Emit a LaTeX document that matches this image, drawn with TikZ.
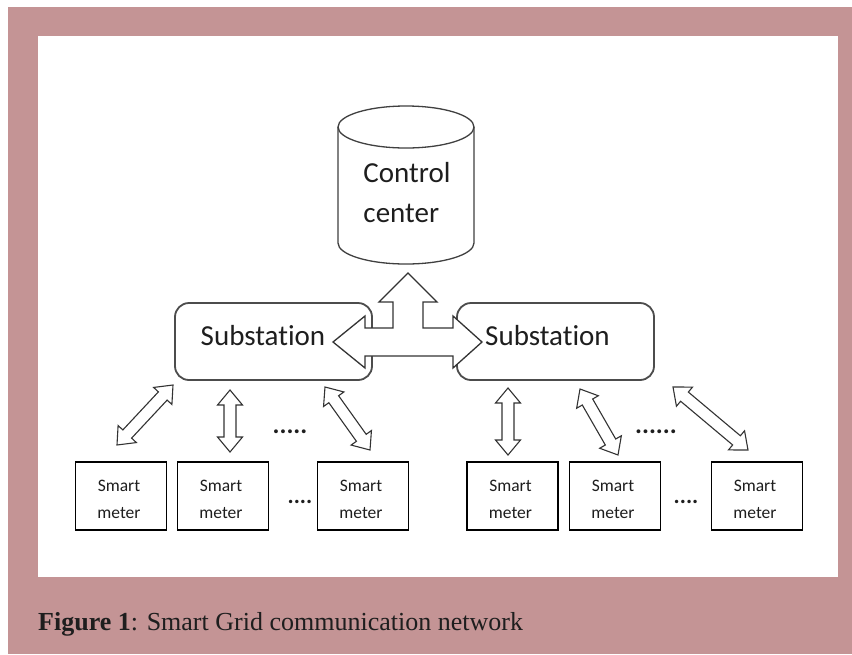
\documentclass[tikz,border=0pt]{standalone}
\usepackage{fontspec}
\setmainfont{Liberation Serif}
\newfontfamily\calib[Ligatures=NoCommon]{Carlito}
\usetikzlibrary{calc}
\definecolor{framepink}{RGB}{196,148,149}
\definecolor{ink}{RGB}{30,30,30}
\tikzset{
  subbox/.style={draw=black!70, line width=1.8pt, rounded corners=14pt, minimum width=197pt, minimum height=77pt, inner sep=0pt},
  meterbox/.style={draw=black, line width=1.3pt, minimum width=91pt, minimum height=68pt, inner sep=0pt},
  metertext/.style={align=center, inner sep=0pt, font=\calib\fontsize{17.5}{27}\selectfont, text=ink},
  cyl/.style={draw=black!75, line width=1.3pt},
  bigarrow/.style={draw=black!80, line width=1.3pt, fill=white, line join=miter},
  bigtext/.style={font=\calib\fontsize{29}{40}\selectfont, text=ink, inner sep=0pt},
  dots/.style={font=\calib\bfseries\fontsize{26}{30}\selectfont, text=ink, inner sep=0pt},
  smalldots/.style={font=\calib\bfseries\fontsize{23}{30}\selectfont, text=ink, inner sep=0pt},
  dbl/.style={draw=black!80, line width=1.1pt, fill=white, line join=miter,
    to path={
      -- ($(\tikztostart)!15pt!(\tikztotarget)!12.5pt!90:(\tikztotarget)$)
      -- ($(\tikztostart)!15pt!(\tikztotarget)!6pt!90:(\tikztotarget)$)
      -- ($(\tikztotarget)!15pt!(\tikztostart)!6pt!-90:(\tikztostart)$)
      -- ($(\tikztotarget)!15pt!(\tikztostart)!12.5pt!-90:(\tikztostart)$)
      -- (\tikztotarget)
      -- ($(\tikztotarget)!15pt!(\tikztostart)!12.5pt!90:(\tikztostart)$)
      -- ($(\tikztotarget)!15pt!(\tikztostart)!6pt!90:(\tikztostart)$)
      -- ($(\tikztostart)!15pt!(\tikztotarget)!6pt!-90:(\tikztotarget)$)
      -- ($(\tikztostart)!15pt!(\tikztotarget)!12.5pt!-90:(\tikztotarget)$)
      -- cycle}}
}
\begin{document}
\begin{tikzpicture}[x=1pt,y=-1pt]
\useasboundingbox (0,0) rectangle (852,654);
% frame
\fill[white] (0,0) rectangle (852,654);
\fill[framepink] (8,7) rectangle (852,654);
\fill[white] (38,36) rectangle (838,577);

% control center cylinder
\draw[cyl] (338,127) -- (338,243) arc[start angle=180, end angle=0, x radius=68, y radius=21] -- (474,127);
\draw[cyl] (406,127) ellipse[x radius=68, y radius=21];
\node[bigtext, align=left] (cc) at (407,193) {Control\\center};

% substations
\node[subbox] (s1) at (273.5,341.5) {};
\node[subbox] (s2) at (555.5,341.5) {};

% T-shaped arrow
\draw[bigarrow] (333,342) -- (365,316) -- (365,328) -- (393,328) -- (393,302) -- (379,302)
  -- (408,273) -- (437,302) -- (423,302) -- (423,328) -- (453,328) -- (453,316)
  -- (482,342) -- (453,368) -- (453,356) -- (365,356) -- (365,368) -- cycle;

\node[bigtext] (t1) at (263,336) {Substation};
\node[bigtext] (t2) at (547.5,336) {Substation};

% smart meters
\node[meterbox] (m1) at (121,496) {};
\node[meterbox] (m2) at (223,496) {};
\node[meterbox] (m3) at (363,496) {};
\node[meterbox] (m4) at (512.5,496) {};
\node[meterbox] (m5) at (615,496) {};
\node[meterbox] (m6) at (757,496) {};
\node[metertext] (mt1) at (119,499) {Smart\\meter};
\node[metertext] (mt2) at (221,499) {Smart\\meter};
\node[metertext] (mt3) at (361,499) {Smart\\meter};
\node[metertext] (mt4) at (510.5,499) {Smart\\meter};
\node[metertext] (mt5) at (613,499) {Smart\\meter};
\node[metertext] (mt6) at (755,499) {Smart\\meter};

% arrow end points
\coordinate (a1) at (173,385); \coordinate (b1) at (117,445);
\coordinate (a2) at (230,390); \coordinate (b2) at (230,452);
\coordinate (a3) at (325,387); \coordinate (b3) at (370,450);
\coordinate (a4) at (508,388); \coordinate (b4) at (508,455);
\coordinate (a5) at (580,389); \coordinate (b5) at (618,455);
\coordinate (a6) at (673,387); \coordinate (b6) at (748,450);
\draw[dbl] (a1) to (b1);
\draw[dbl] (a2) to (b2);
\draw[dbl] (a3) to (b3);
\draw[dbl] (a4) to (b4);
\draw[dbl] (a5) to (b5);
\draw[dbl] (a6) to (b6);

% dots
\node[dots] (d1) at (290,432) {.....};
\node[smalldots] (d2) at (300,502) {....};
\node[dots] (d3) at (656,432) {......};
\node[smalldots] (d4) at (686,502) {....};

% caption
\node[anchor=base west, inner sep=0pt, text=ink, font=\fontsize{26}{30}\selectfont] (cap) at (38,630) {\textbf{Figure 1}: Smart Grid communication network};
\end{tikzpicture}
\end{document}
